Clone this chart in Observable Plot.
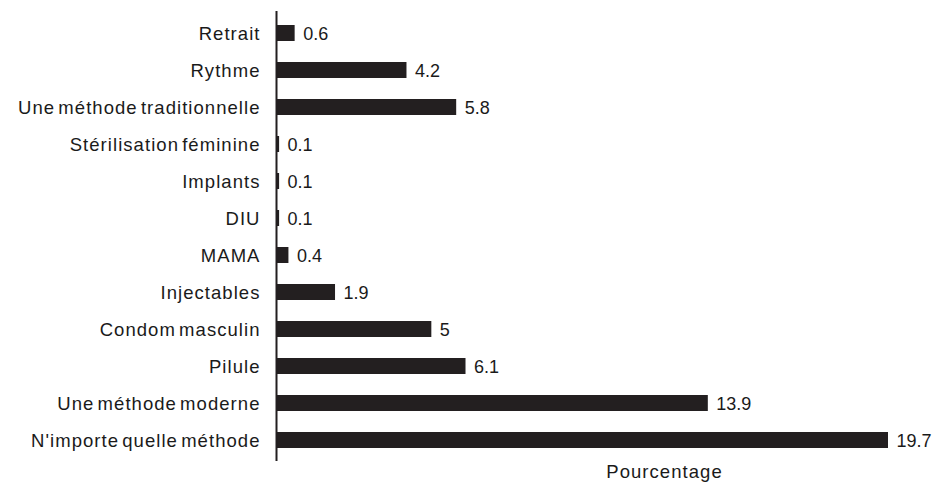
<!DOCTYPE html>
<html>
<head>
<meta charset="utf-8">
<script src="https://cdn.jsdelivr.net/npm/d3@7"></script>
<script src="https://cdn.jsdelivr.net/npm/@observablehq/plot@0.6"></script>
<style>
  html, body { margin: 0; padding: 0; background: #fff; }
  #chart svg { display: block; }
  #chart g[aria-label="y-axis tick label"] text,
  #chart text.axis-title { letter-spacing: 1.05px; word-spacing: -3px; }
</style>
</head>
<body>
<div id="chart"></div>
<script>
// Contraceptive methods, top to bottom as listed
const methods = [
  "Retrait",
  "Rythme",
  "Une méthode traditionnelle",
  "Stérilisation féminine",
  "Implants",
  "DIU",
  "MAMA",
  "Injectables",
  "Condom masculin",
  "Pilule",
  "Une méthode moderne",
  "N'importe quelle méthode"
];
const percentages = [0.6, 4.2, 5.8, 0.1, 0.1, 0.1, 0.4, 1.9, 5, 6.1, 13.9, 19.7];
const axisTitle = "Pourcentage";

const rows = methods.map((method, i) => ({method, value: percentages[i]}));

const barColor = "#231f20";
const textColor = "#1a1a1a";
const font = "'Liberation Sans', Arial, sans-serif";

const chart = Plot.plot({
  width: 939,
  height: 487,
  marginLeft: 276,
  marginRight: 51,
  marginTop: 11,
  marginBottom: 26,
  style: {fontFamily: font, fontSize: "18.5px", color: textColor, background: "#fff"},
  x: {domain: [0, 19.7], axis: null},
  y: {domain: methods, paddingInner: 0.573, paddingOuter: 0.296, align: 0.5, label: null},
  marks: [
    Plot.barX(rows, {x: "value", y: "method", fill: barColor, insetLeft: 1}),
    Plot.text(rows, {
      x: "value", y: "method", text: d => String(d.value),
      textAnchor: "start", dx: 8, dy: 1, fill: textColor, fontSize: 18
    }),
    Plot.axisY({
      tickSize: 0, tickPadding: 16, fontSize: 18.5, label: null, dy: 1
    }),
    Plot.ruleX([0], {stroke: barColor, strokeWidth: 2}),
    Plot.text([axisTitle], {
      frameAnchor: "bottom", dx: 82, dy: 16, fontSize: 18.5, fill: textColor
    })
  ]
});

// tag the x-axis title so it shares the tick-label letter spacing
d3.select(chart).selectAll("text")
  .filter(function() { return this.textContent === axisTitle; })
  .classed("axis-title", true);

document.getElementById("chart").append(chart);
</script>
</body>
</html>
